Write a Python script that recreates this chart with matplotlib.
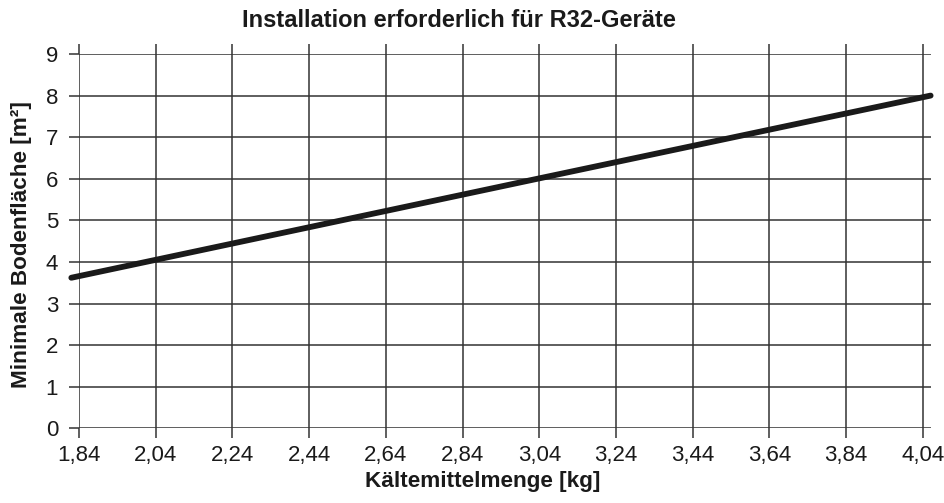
import matplotlib.pyplot as plt

plt.rcParams['font.family'] = ['Liberation Sans', 'DejaVu Sans']

# refrigerant charge [kg] vs. minimum floor area [m2]
charge = [1.82, 3.04, 4.06]
floor_area = [3.62, 6.01, 8.0]

x_ticks = [1.84, 2.04, 2.24, 2.44, 2.64, 2.84, 3.04, 3.24, 3.44, 3.64, 3.84, 4.04]
y_ticks = list(range(0, 10))

grid_col = '#333333'

fig = plt.figure(figsize=(9.44, 5.03), dpi=100)
ax = fig.add_axes([79 / 944, 1 - 428.3 / 503, (931 - 79) / 944, (428.3 - 54) / 503])

ax.plot(charge, floor_area, color='#1a1a1a', lw=4.2, solid_capstyle='round',
        clip_on=False, zorder=3)

ax.set_xlim(1.84, 4.061)
ax.set_ylim(0, 9)
ax.set_xticks(x_ticks)
ax.set_xticklabels([f'{v:.2f}'.replace('.', ',') for v in x_ticks])
ax.set_yticks(y_ticks)

for s in ax.spines.values():
    s.set_visible(False)
ax.grid(True, color=grid_col, lw=1.1)
ax.set_axisbelow(True)

ax.tick_params(axis='x', direction='out', length=7, width=1.1, color=grid_col,
               top=True, bottom=True, labelsize=16, pad=5, labelcolor='#1a1a1a')
ax.tick_params(axis='y', direction='out', length=7, width=1.1, color=grid_col,
               left=True, right=False, labelsize=16, pad=8, labelcolor='#1a1a1a')

fig.text(459 / 944, 1 - 27 / 503, 'Installation erforderlich für R32-Geräte',
         ha='center', va='baseline', fontsize=17, fontweight='bold', color='#1a1a1a')
fig.text(483 / 944, 1 - 487 / 503, 'Kältemittelmenge [kg]',
         ha='center', va='baseline', fontsize=16.2, fontweight='bold', color='#1a1a1a')
fig.text(22 / 944, 1 - 245 / 503, 'Minimale Bodenfläche [m²]', rotation=90,
         ha='center', va='center', fontsize=16.2, fontweight='bold', color='#1a1a1a')

fig.savefig('out.png', dpi=100, facecolor='white')
